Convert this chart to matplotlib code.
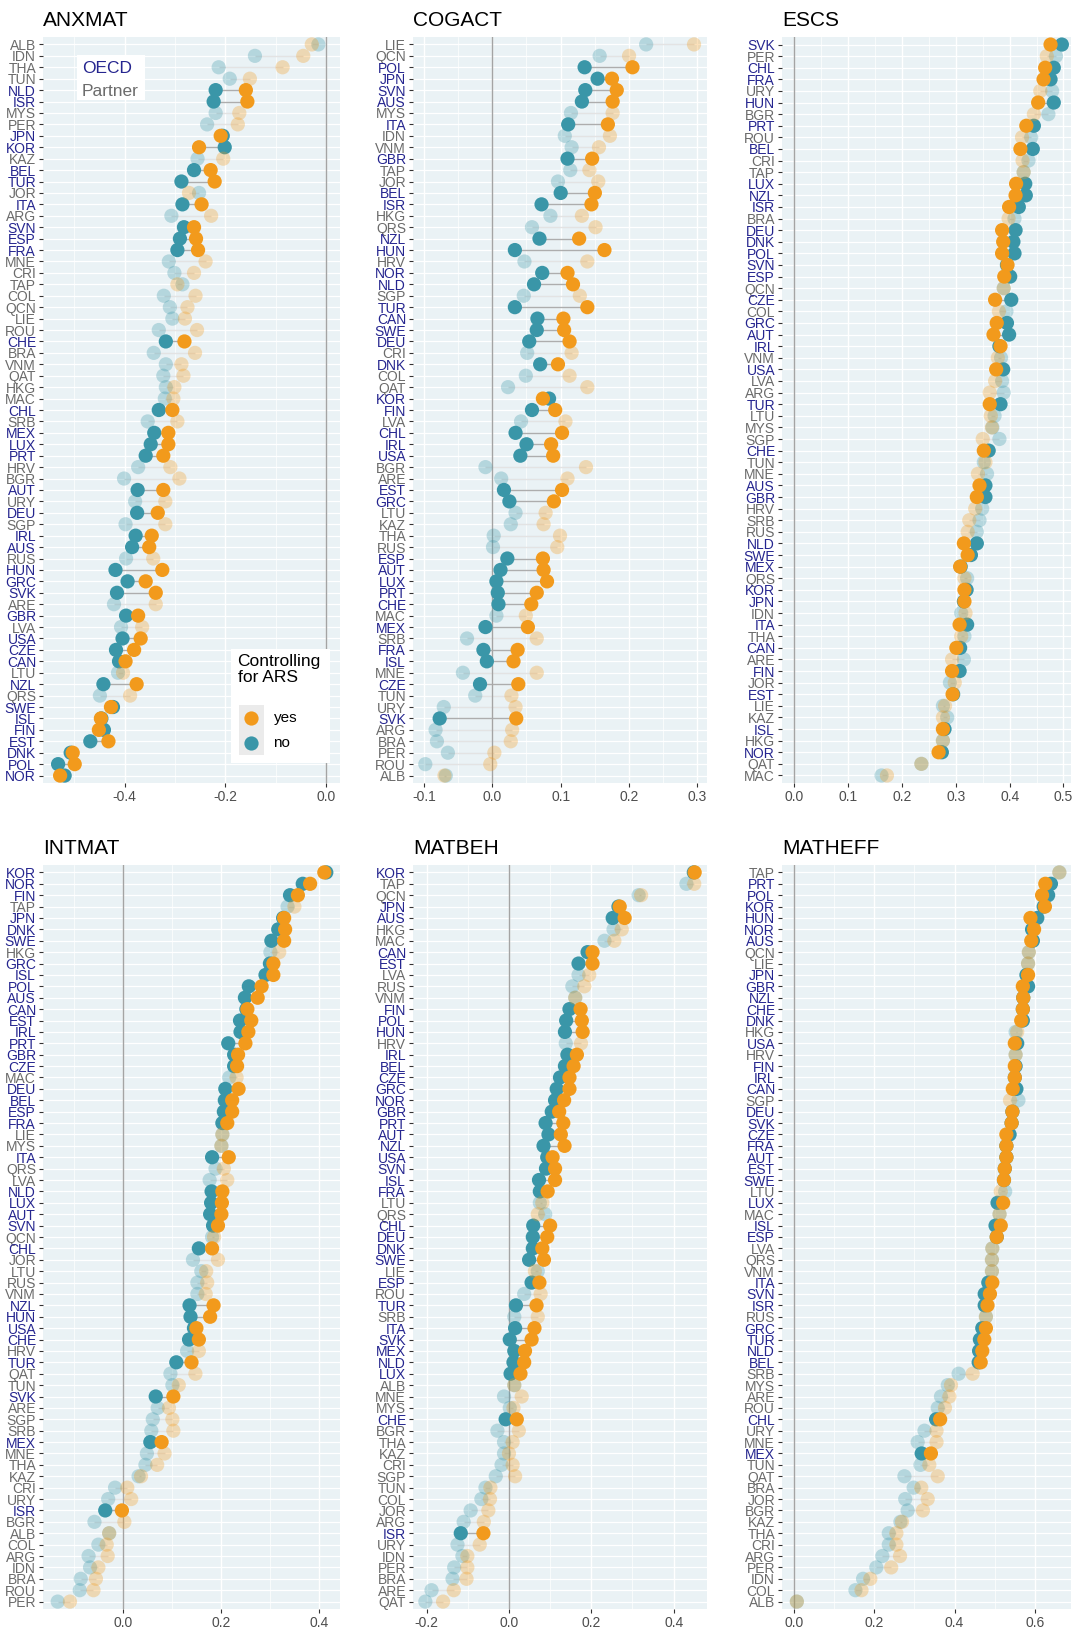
import matplotlib
matplotlib.use('Agg')
import matplotlib.pyplot as plt
from matplotlib.patches import Rectangle
import numpy as np

plt.rcParams['font.family'] = ['Liberation Sans', 'DejaVu Sans']

# OECD members (everything else is a partner economy)
oecd = ['AUS', 'AUT', 'BEL', 'CAN', 'CHE', 'CHL', 'CZE', 'DEU', 'DNK', 'ESP',
        'EST', 'FIN', 'FRA', 'GBR', 'GRC', 'HUN', 'IRL', 'ISL', 'ISR', 'ITA',
        'JPN', 'KOR', 'LUX', 'MEX', 'NLD', 'NOR', 'NZL', 'POL', 'PRT', 'SVK',
        'SVN', 'SWE', 'TUR', 'USA']

# ANXMAT
anxmat_cnt = ['ALB', 'IDN', 'THA', 'TUN', 'NLD', 'ISR', 'MYS', 'PER', 'JPN', 'KOR',
              'KAZ', 'BEL', 'TUR', 'JOR', 'ITA', 'ARG', 'SVN', 'ESP', 'FRA', 'MNE',
              'CRI', 'TAP', 'COL', 'QCN', 'LIE', 'ROU', 'CHE', 'BRA', 'VNM', 'QAT',
              'HKG', 'MAC', 'CHL', 'SRB', 'MEX', 'LUX', 'PRT', 'HRV', 'BGR', 'AUT',
              'URY', 'DEU', 'SGP', 'IRL', 'AUS', 'RUS', 'HUN', 'GRC', 'SVK', 'ARE',
              'GBR', 'LVA', 'USA', 'CZE', 'CAN', 'LTU', 'NZL', 'QRS', 'SWE', 'ISL',
              'FIN', 'EST', 'DNK', 'POL', 'NOR']
anxmat_yes = [-0.028, -0.045, -0.086, -0.151, -0.159, -0.156, -0.172, -0.175, -0.209, -0.252,
              -0.204, -0.229, -0.221, -0.272, -0.247, -0.228, -0.262, -0.258, -0.254, -0.239,
              -0.262, -0.295, -0.259, -0.275, -0.280, -0.256, -0.281, -0.260, -0.287, -0.283,
              -0.301, -0.303, -0.305, -0.295, -0.313, -0.313, -0.323, -0.309, -0.291, -0.323,
              -0.319, -0.334, -0.319, -0.346, -0.351, -0.343, -0.325, -0.358, -0.338, -0.338,
              -0.373, -0.365, -0.368, -0.381, -0.398, -0.403, -0.376, -0.389, -0.427, -0.447,
              -0.451, -0.432, -0.503, -0.499, -0.528]
anxmat_no = [-0.015, -0.141, -0.213, -0.191, -0.219, -0.223, -0.219, -0.236, -0.205, -0.201,
             -0.255, -0.262, -0.287, -0.252, -0.285, -0.307, -0.282, -0.290, -0.295, -0.312,
             -0.301, -0.285, -0.322, -0.310, -0.305, -0.332, -0.318, -0.342, -0.318, -0.323,
             -0.318, -0.320, -0.332, -0.354, -0.341, -0.348, -0.358, -0.373, -0.401, -0.374,
             -0.379, -0.375, -0.398, -0.378, -0.385, -0.397, -0.418, -0.394, -0.415, -0.421,
             -0.397, -0.407, -0.404, -0.417, -0.411, -0.413, -0.442, -0.449, -0.423, -0.446,
             -0.441, -0.468, -0.507, -0.532, -0.519]

# COGACT
cogact_cnt = ['LIE', 'QCN', 'POL', 'JPN', 'SVN', 'AUS', 'MYS', 'ITA', 'IDN', 'VNM',
              'GBR', 'TAP', 'JOR', 'BEL', 'ISR', 'HKG', 'QRS', 'NZL', 'HUN', 'HRV',
              'NOR', 'NLD', 'SGP', 'TUR', 'CAN', 'SWE', 'DEU', 'CRI', 'DNK', 'COL',
              'QAT', 'KOR', 'FIN', 'LVA', 'CHL', 'IRL', 'USA', 'BGR', 'ARE', 'EST',
              'GRC', 'LTU', 'KAZ', 'THA', 'RUS', 'ESP', 'AUT', 'LUX', 'PRT', 'CHE',
              'MAC', 'MEX', 'SRB', 'FRA', 'ISL', 'MNE', 'CZE', 'TUN', 'URY', 'SVK',
              'ARG', 'BRA', 'PER', 'ROU', 'ALB']
cogact_yes = [0.295, 0.200, 0.205, 0.175, 0.182, 0.176, 0.176, 0.169, 0.172, 0.156,
              0.146, 0.142, 0.155, 0.150, 0.145, 0.131, 0.151, 0.127, 0.164, 0.139,
              0.110, 0.118, 0.128, 0.139, 0.104, 0.105, 0.113, 0.116, 0.096, 0.113,
              0.139, 0.074, 0.092, 0.107, 0.102, 0.086, 0.089, 0.137, 0.110, 0.102,
              0.090, 0.078, 0.075, 0.099, 0.095, 0.074, 0.075, 0.080, 0.065, 0.057,
              0.049, 0.052, 0.065, 0.037, 0.031, 0.065, 0.038, 0.028, 0.034, 0.035,
              0.029, 0.027, 0.003, -0.003, -0.070]
cogact_no = [0.225, 0.157, 0.135, 0.154, 0.136, 0.131, 0.115, 0.111, 0.106, 0.116,
             0.110, 0.114, 0.096, 0.100, 0.072, 0.085, 0.058, 0.069, 0.033, 0.047,
             0.073, 0.061, 0.046, 0.033, 0.066, 0.065, 0.054, 0.051, 0.070, 0.049,
             0.023, 0.083, 0.058, 0.042, 0.034, 0.050, 0.041, -0.010, 0.013, 0.017,
             0.025, 0.034, 0.027, 0.002, 0.001, 0.022, 0.012, 0.006, 0.008, 0.009,
             0.006, -0.010, -0.037, -0.013, -0.008, -0.043, -0.018, -0.025, -0.071, -0.077,
             -0.083, -0.081, -0.065, -0.098, -0.068]

# ESCS (no value for ALB)
escs_cnt = ['SVK', 'PER', 'CHL', 'FRA', 'URY', 'HUN', 'BGR', 'PRT', 'ROU', 'BEL',
            'CRI', 'TAP', 'LUX', 'NZL', 'ISR', 'BRA', 'DEU', 'DNK', 'POL', 'SVN',
            'ESP', 'QCN', 'CZE', 'COL', 'GRC', 'AUT', 'IRL', 'VNM', 'USA', 'LVA',
            'ARG', 'TUR', 'LTU', 'MYS', 'SGP', 'CHE', 'TUN', 'MNE', 'AUS', 'GBR',
            'HRV', 'SRB', 'RUS', 'NLD', 'SWE', 'MEX', 'QRS', 'KOR', 'JPN', 'IDN',
            'ITA', 'THA', 'CAN', 'ARE', 'FIN', 'JOR', 'EST', 'LIE', 'KAZ', 'ISL',
            'HKG', 'NOR', 'QAT', 'MAC']
escs_yes = [0.476, 0.469, 0.466, 0.463, 0.457, 0.453, 0.445, 0.431, 0.423, 0.420,
            0.424, 0.426, 0.412, 0.411, 0.399, 0.398, 0.386, 0.388, 0.386, 0.396,
            0.390, 0.389, 0.373, 0.380, 0.376, 0.370, 0.383, 0.378, 0.375, 0.373,
            0.363, 0.363, 0.365, 0.367, 0.350, 0.352, 0.355, 0.341, 0.344, 0.339,
            0.336, 0.325, 0.322, 0.315, 0.322, 0.308, 0.316, 0.316, 0.316, 0.318,
            0.307, 0.310, 0.301, 0.293, 0.293, 0.298, 0.294, 0.280, 0.276, 0.276,
            0.276, 0.268, 0.236, 0.172]
escs_no = [0.497, 0.486, 0.482, 0.476, 0.479, 0.482, 0.472, 0.445, 0.440, 0.443,
           0.435, 0.426, 0.429, 0.430, 0.417, 0.409, 0.411, 0.407, 0.409, 0.395,
           0.401, 0.389, 0.403, 0.394, 0.395, 0.399, 0.381, 0.384, 0.388, 0.386,
           0.389, 0.383, 0.372, 0.368, 0.381, 0.361, 0.352, 0.358, 0.355, 0.355,
           0.349, 0.344, 0.339, 0.339, 0.328, 0.309, 0.321, 0.320, 0.315, 0.310,
           0.321, 0.316, 0.308, 0.315, 0.307, 0.289, 0.295, 0.276, 0.284, 0.279,
           0.276, 0.274, 0.236, 0.162]

# INTMAT
intmat_cnt = ['KOR', 'NOR', 'FIN', 'TAP', 'JPN', 'DNK', 'SWE', 'HKG', 'GRC', 'ISL',
              'POL', 'AUS', 'CAN', 'EST', 'IRL', 'PRT', 'GBR', 'CZE', 'MAC', 'DEU',
              'BEL', 'ESP', 'FRA', 'LIE', 'MYS', 'ITA', 'QRS', 'LVA', 'NLD', 'LUX',
              'AUT', 'SVN', 'QCN', 'CHL', 'JOR', 'LTU', 'RUS', 'VNM', 'NZL', 'HUN',
              'USA', 'CHE', 'HRV', 'TUR', 'QAT', 'TUN', 'SVK', 'ARE', 'SGP', 'SRB',
              'MEX', 'MNE', 'THA', 'KAZ', 'CRI', 'URY', 'ISR', 'BGR', 'ALB', 'COL',
              'ARG', 'IDN', 'BRA', 'ROU', 'PER']
intmat_yes = [0.410, 0.381, 0.356, 0.349, 0.328, 0.330, 0.328, 0.318, 0.306, 0.306,
              0.282, 0.274, 0.253, 0.261, 0.255, 0.249, 0.234, 0.232, 0.231, 0.235,
              0.222, 0.222, 0.212, 0.202, 0.200, 0.215, 0.205, 0.212, 0.202, 0.201,
              0.200, 0.193, 0.185, 0.181, 0.193, 0.169, 0.171, 0.168, 0.184, 0.177,
              0.149, 0.154, 0.154, 0.139, 0.147, 0.113, 0.102, 0.093, 0.100, 0.102,
              0.078, 0.084, 0.069, 0.036, 0.008, 0.016, -0.003, 0.002, -0.029, -0.034,
              -0.032, -0.051, -0.056, -0.061, -0.109]
intmat_no = [0.414, 0.366, 0.340, 0.335, 0.326, 0.316, 0.302, 0.300, 0.299, 0.290,
             0.256, 0.248, 0.251, 0.238, 0.239, 0.214, 0.226, 0.226, 0.216, 0.208,
             0.207, 0.205, 0.202, 0.202, 0.200, 0.181, 0.188, 0.176, 0.180, 0.179,
             0.177, 0.183, 0.181, 0.154, 0.142, 0.159, 0.151, 0.151, 0.135, 0.137,
             0.144, 0.134, 0.130, 0.108, 0.096, 0.100, 0.066, 0.070, 0.060, 0.057,
             0.055, 0.048, 0.045, 0.031, -0.017, -0.031, -0.037, -0.059, -0.029, -0.051,
             -0.071, -0.068, -0.087, -0.089, -0.134]

# MATBEH
matbeh_cnt = ['KOR', 'TAP', 'QCN', 'JPN', 'AUS', 'HKG', 'MAC', 'CAN', 'EST', 'LVA',
              'RUS', 'VNM', 'FIN', 'POL', 'HUN', 'HRV', 'IRL', 'BEL', 'CZE', 'GRC',
              'NOR', 'GBR', 'PRT', 'AUT', 'NZL', 'USA', 'SVN', 'ISL', 'FRA', 'LTU',
              'QRS', 'CHL', 'DEU', 'DNK', 'SWE', 'LIE', 'ESP', 'ROU', 'TUR', 'SRB',
              'ITA', 'SVK', 'MEX', 'NLD', 'LUX', 'ALB', 'MNE', 'MYS', 'CHE', 'BGR',
              'THA', 'KAZ', 'CRI', 'SGP', 'TUN', 'COL', 'JOR', 'ARG', 'ISR', 'URY',
              'IDN', 'PER', 'BRA', 'ARE', 'QAT']
matbeh_yes = [0.451, 0.450, 0.321, 0.269, 0.281, 0.274, 0.256, 0.203, 0.203, 0.195,
              0.183, 0.161, 0.174, 0.177, 0.179, 0.175, 0.165, 0.157, 0.147, 0.147,
              0.134, 0.122, 0.132, 0.126, 0.135, 0.106, 0.112, 0.112, 0.094, 0.081,
              0.070, 0.100, 0.093, 0.081, 0.085, 0.063, 0.074, 0.077, 0.067, 0.070,
              0.062, 0.055, 0.039, 0.037, 0.028, 0.013, 0.031, 0.011, 0.019, 0.024,
              0.009, 0.000, 0.009, 0.015, -0.045, -0.046, -0.050, -0.061, -0.062, -0.071,
              -0.101, -0.101, -0.103, -0.134, -0.160]
matbeh_no = [0.449, 0.431, 0.315, 0.266, 0.252, 0.254, 0.232, 0.191, 0.169, 0.169,
             0.154, 0.161, 0.147, 0.139, 0.136, 0.138, 0.142, 0.136, 0.124, 0.116,
             0.112, 0.104, 0.089, 0.096, 0.084, 0.093, 0.090, 0.073, 0.075, 0.075,
             0.088, 0.059, 0.058, 0.058, 0.049, 0.070, 0.055, 0.037, 0.017, 0.013,
             0.015, 0.002, 0.013, 0.011, 0.004, 0.013, -0.012, 0.002, -0.008, -0.028,
             -0.012, -0.012, -0.018, -0.032, -0.057, -0.067, -0.093, -0.110, -0.117, -0.125,
             -0.113, -0.133, -0.137, -0.188, -0.203]

# MATHEFF
matheff_cnt = ['TAP', 'PRT', 'POL', 'KOR', 'HUN', 'NOR', 'AUS', 'QCN', 'LIE', 'JPN',
               'GBR', 'NZL', 'CHE', 'DNK', 'HKG', 'USA', 'HRV', 'FIN', 'IRL', 'CAN',
               'SGP', 'DEU', 'SVK', 'CZE', 'FRA', 'AUT', 'EST', 'SWE', 'LTU', 'LUX',
               'MAC', 'ISL', 'ESP', 'LVA', 'QRS', 'VNM', 'ITA', 'SVN', 'ISR', 'RUS',
               'GRC', 'TUR', 'NLD', 'BEL', 'SRB', 'MYS', 'ARE', 'ROU', 'CHL', 'URY',
               'MNE', 'MEX', 'TUN', 'QAT', 'BRA', 'JOR', 'BGR', 'KAZ', 'THA', 'CRI',
               'ARG', 'PER', 'IDN', 'COL', 'ALB']
matheff_yes = [0.661, 0.626, 0.618, 0.625, 0.589, 0.598, 0.591, 0.585, 0.583, 0.583,
               0.570, 0.571, 0.570, 0.566, 0.556, 0.550, 0.552, 0.550, 0.550, 0.545,
               0.538, 0.544, 0.542, 0.529, 0.529, 0.529, 0.525, 0.523, 0.515, 0.521,
               0.512, 0.515, 0.505, 0.494, 0.493, 0.493, 0.494, 0.488, 0.482, 0.478,
               0.478, 0.474, 0.469, 0.465, 0.445, 0.391, 0.387, 0.376, 0.364, 0.355,
               0.355, 0.341, 0.337, 0.358, 0.317, 0.333, 0.321, 0.269, 0.255, 0.255,
               0.264, 0.242, 0.190, 0.168, 0.007]
matheff_no = [0.661, 0.640, 0.633, 0.622, 0.606, 0.593, 0.595, 0.585, 0.583, 0.579,
              0.583, 0.571, 0.570, 0.570, 0.552, 0.556, 0.552, 0.552, 0.550, 0.554,
              0.559, 0.544, 0.542, 0.537, 0.529, 0.529, 0.525, 0.523, 0.526, 0.507,
              0.512, 0.502, 0.505, 0.494, 0.493, 0.493, 0.484, 0.475, 0.475, 0.478,
              0.469, 0.463, 0.461, 0.460, 0.410, 0.383, 0.366, 0.358, 0.354, 0.325,
              0.308, 0.318, 0.315, 0.275, 0.298, 0.277, 0.283, 0.265, 0.236, 0.236,
              0.220, 0.205, 0.172, 0.153, 0.007]

C_YES = '#F29A1C'
C_NO = '#3A96A8'
C_OECD = '#25258F'
C_PART = '#6B6B6B'
BG = '#EAF2F5'

W, H = 1073, 1628
fig = plt.figure(figsize=(W / 100, H / 100), dpi=100)


def add_axes(left, top, right, bottom):
    return fig.add_axes([left / W, 1 - bottom / H, (right - left) / W, (bottom - top) / H])


def rgba(c, a):
    r, g, b, _ = matplotlib.colors.to_rgba(c)
    return (r, g, b, a)


def panel(ax, title, cnt, yes, no, xlim, ticks, minor):
    n = len(cnt)
    y = np.arange(n)[::-1]
    alpha = np.array([1.0 if c in oecd else 0.3 for c in cnt])
    ax.set_facecolor(BG)
    for s in ax.spines.values():
        s.set_visible(False)
    # grid
    for yy in y:
        ax.axhline(yy, color='white', lw=0.9, zorder=0)
    for t in minor:
        ax.axvline(t, color='white', lw=0.5, zorder=0)
    for t in ticks:
        ax.axvline(t, color='white', lw=1.0, zorder=0)
    ax.axvline(0, color='#A4A4A4', lw=1.0, zorder=1)
    # segments between the two estimates
    for i in range(n):
        ax.plot([no[i], yes[i]], [y[i], y[i]], color=rgba('#A9A9A9', 0.9 * alpha[i] + 0.05),
                lw=1.0, zorder=2, solid_capstyle='butt')
    ax.scatter(no, y, s=105, c=[rgba(C_NO, a) for a in alpha], lw=0, zorder=3)
    ax.scatter(yes, y, s=105, c=[rgba(C_YES, a) for a in alpha], lw=0, zorder=4)
    ax.set_xlim(*xlim)
    ax.set_ylim(-0.65, n - 1 + 0.65)
    ax.set_xticks(ticks)
    ax.set_xticklabels(['%.1f' % t for t in ticks])
    ax.set_yticks(y)
    ax.set_yticklabels(cnt)
    for lab, c in zip(ax.get_yticklabels(), cnt):
        lab.set_color(C_OECD if c in oecd else C_PART)
    ax.tick_params(axis='both', length=3, width=0.8, color='#333333', labelsize=10, pad=2)
    ax.tick_params(axis='x', labelcolor='#4D4D4D')
    ax.set_title(title, loc='left', fontsize=15, pad=8)


ax1 = add_axes(43, 37, 340, 783)
panel(ax1, 'ANXMAT', anxmat_cnt, anxmat_yes, anxmat_no, (-0.562, 0.028),
      [-0.4, -0.2, 0.0], [-0.5, -0.3, -0.1])
ax2 = add_axes(413, 37, 707, 783)
panel(ax2, 'COGACT', cogact_cnt, cogact_yes, cogact_no, (-0.116, 0.314),
      [-0.1, 0.0, 0.1, 0.2, 0.3], [-0.05, 0.05, 0.15, 0.25])
ax3 = add_axes(782, 37, 1071, 783)
panel(ax3, 'ESCS', escs_cnt, escs_yes, escs_no, (-0.023, 0.514),
      [0.0, 0.1, 0.2, 0.3, 0.4, 0.5], [0.05, 0.15, 0.25, 0.35, 0.45])
ax4 = add_axes(43, 865, 340, 1609)
panel(ax4, 'INTMAT', intmat_cnt, intmat_yes, intmat_no, (-0.164, 0.442),
      [0.0, 0.2, 0.4], [-0.1, 0.1, 0.3])
ax5 = add_axes(413, 865, 707, 1609)
panel(ax5, 'MATBEH', matbeh_cnt, matbeh_yes, matbeh_no, (-0.233, 0.481),
      [-0.2, 0.0, 0.2, 0.4], [-0.1, 0.1, 0.3])
ax6 = add_axes(782, 865, 1071, 1609)
panel(ax6, 'MATHEFF', matheff_cnt, matheff_yes, matheff_no, (-0.030, 0.690),
      [0.0, 0.2, 0.4, 0.6], [0.1, 0.3, 0.5])

# OECD / Partner key
ax1.add_patch(Rectangle((0.114, 0.915), 0.229, 0.061, transform=ax1.transAxes,
                        fc='white', ec='none', zorder=5))
ax1.text(0.131, 0.958, 'OECD', color=C_OECD, fontsize=12.5, va='center', transform=ax1.transAxes, zorder=6)
ax1.text(0.131, 0.927, 'Partner', color=C_PART, fontsize=12.5, va='center', transform=ax1.transAxes, zorder=6)

# Controlling for ARS legend
ax1.add_patch(Rectangle((0.633, 0.027), 0.333, 0.153, transform=ax1.transAxes,
                        fc='white', ec='none', zorder=5))
ax1.text(0.655, 0.173, 'Controlling\nfor ARS', fontsize=12.5, va='top', linespacing=1.05,
         transform=ax1.transAxes, zorder=6)
ax1.add_patch(Rectangle((0.660, 0.0375), 0.084, 0.067, transform=ax1.transAxes,
                        fc='#EBEBEB', ec='none', zorder=6))
ax1.scatter([0.702], [0.087], s=105, color=C_YES, lw=0, transform=ax1.transAxes, zorder=7, clip_on=False)
ax1.scatter([0.702], [0.053], s=105, color=C_NO, lw=0, transform=ax1.transAxes, zorder=7, clip_on=False)
ax1.text(0.776, 0.087, 'yes', fontsize=11, va='center', transform=ax1.transAxes, zorder=7)
ax1.text(0.776, 0.053, 'no', fontsize=11, va='center', transform=ax1.transAxes, zorder=7)

fig.savefig('out.png', dpi=100, facecolor='white')
